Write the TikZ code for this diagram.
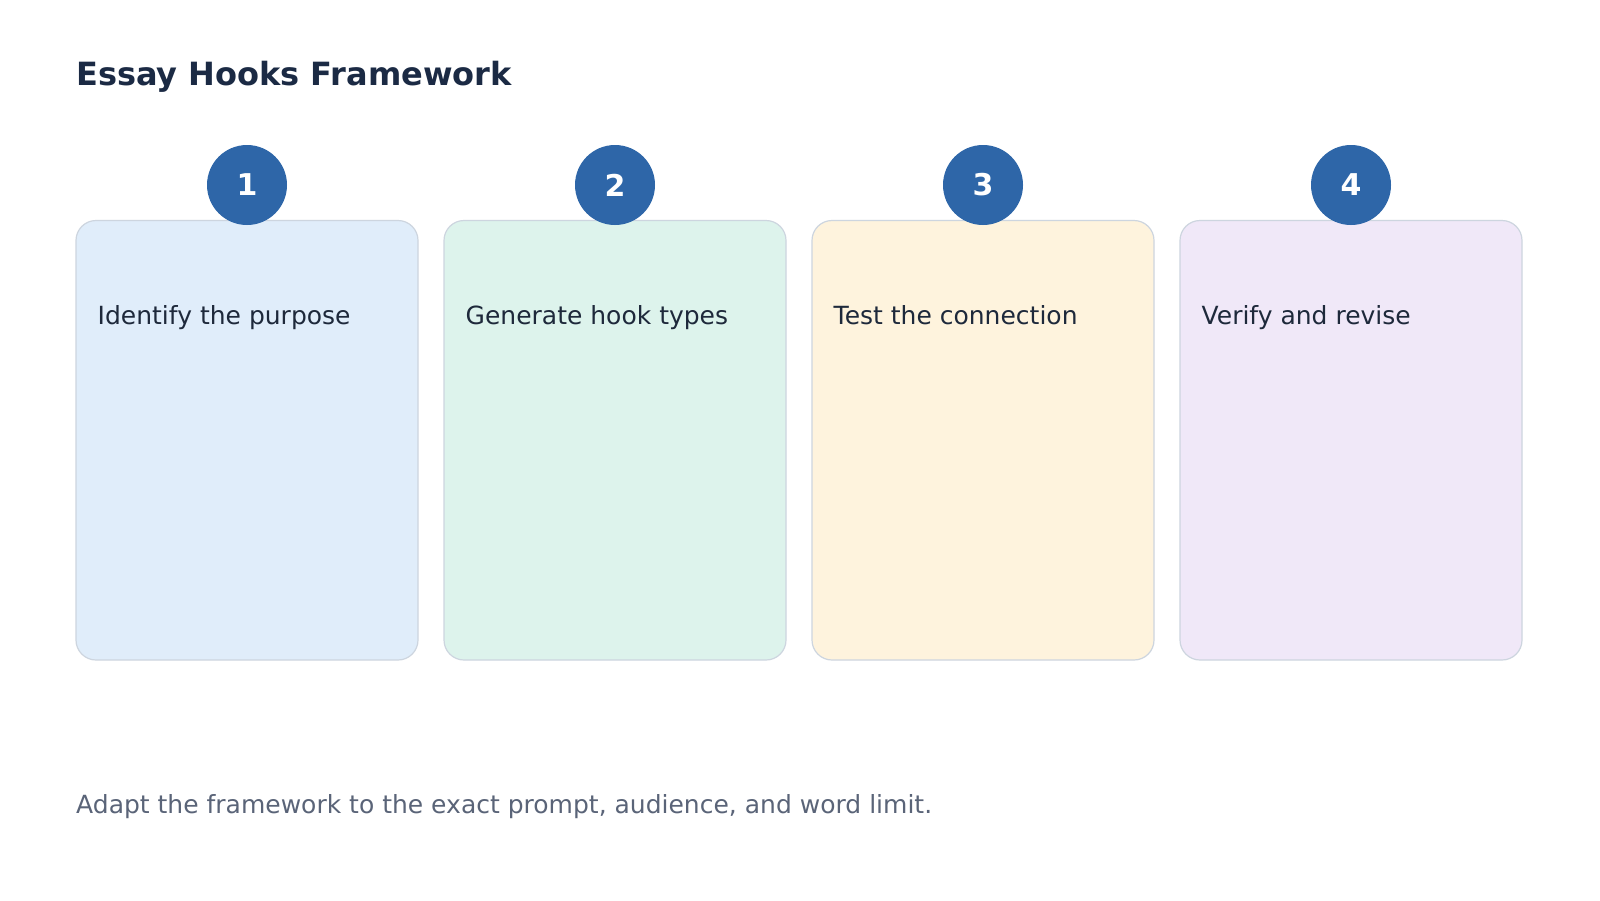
\documentclass[tikz,border=0pt]{standalone}
\usepackage{fontspec}
\setmainfont{DejaVu Sans}
\definecolor{titlec}{HTML}{1B2A44}
\definecolor{circc}{HTML}{2E66A8}
\definecolor{textc}{HTML}{1E293B}
\definecolor{footc}{HTML}{5A6478}
\definecolor{borderc}{HTML}{CDD5DF}
\definecolor{fillA}{HTML}{E0EDFA}
\definecolor{fillB}{HTML}{DDF3EC}
\definecolor{fillC}{HTML}{FEF3DD}
\definecolor{fillD}{HTML}{F0E8F8}
\tikzset{
  card/.style={draw=borderc, line width=1.2pt, rounded corners=20pt},
  numcirc/.style={circle, fill=circc, minimum size=80pt, inner sep=0pt, text=white, font=\fontsize{30}{36}\selectfont\bfseries},
  cardtext/.style={anchor=base west, inner sep=0pt, text=textc, font=\fontsize{25}{30}\selectfont},
}
\begin{document}
\begin{tikzpicture}[x=1pt,y=-1pt]
\useasboundingbox[fill=white] (0,0) rectangle (1600,900);
\node[anchor=base west, inner sep=0pt, text=titlec, font=\fontsize{32}{38}\selectfont\bfseries] (title) at (76,85) {Essay Hooks Framework};
\foreach \i/\x/\f/\t in {1/76/fillA/Identify the purpose, 2/444/fillB/Generate hook types, 3/812/fillC/Test the connection, 4/1180/fillD/Verify and revise}{
  \draw[card, fill=\f] (\x,220.5) rectangle ++(342,439.5);
  \node[cardtext] (text\i) at (\x+21.5,324) {\t};
  \node[numcirc] (num\i) at (\x+171,185) {\i};
}
\node[anchor=base west, inner sep=0pt, text=footc, font=\fontsize{25}{30}\selectfont] (footer) at (76,813) {Adapt the framework to the exact prompt, audience, and word limit.};
\end{tikzpicture}
\end{document}
